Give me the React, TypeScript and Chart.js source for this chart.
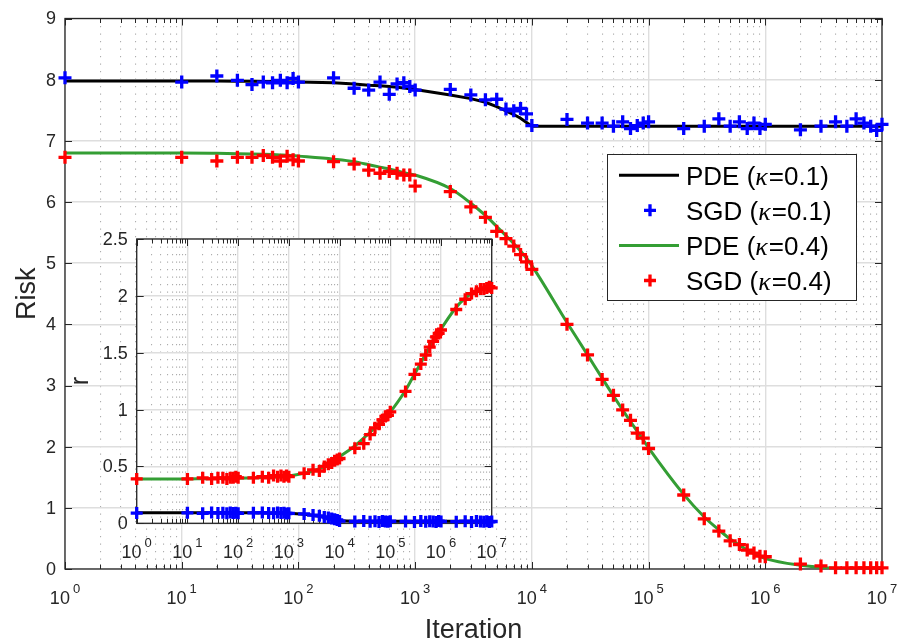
import React, { useEffect, useRef } from 'react';
import { Chart, registerables } from 'chart.js';

Chart.register(...registerables);

// ---------------- data ----------------
const iterations = [
  1, 10, 20, 30, 40, 50, 60, 70, 80, 90, 100,
  200, 300, 400, 500, 600, 700, 800, 900, 1e3,
  2e3, 3e3, 4e3, 5e3, 6e3, 7e3, 8e3, 9e3, 1e4,
  2e4, 3e4, 4e4, 5e4, 6e4, 7e4, 8e4, 9e4, 1e5,
  2e5, 3e5, 4e5, 5e5, 6e5, 7e5, 8e5, 9e5, 1e6,
  2e6, 3e6, 4e6, 5e6, 6e6, 7e6, 8e6, 9e6, 1e7,
];

// Main plot: Risk
const pdeRisk01 = [
  7.98, 7.98, 7.978, 7.976, 7.974, 7.972, 7.97, 7.968, 7.966, 7.963, 7.96,
  7.95, 7.93, 7.91, 7.90, 7.89, 7.875, 7.865, 7.85, 7.84,
  7.75, 7.69, 7.63, 7.56, 7.49, 7.43, 7.37, 7.30, 7.24,
  7.24, 7.24, 7.24, 7.24, 7.24, 7.24, 7.24, 7.24, 7.24,
  7.24, 7.24, 7.24, 7.24, 7.24, 7.24, 7.24, 7.24, 7.24,
  7.24, 7.24, 7.24, 7.24, 7.24, 7.24, 7.24, 7.24, 7.24,
];
const sgdRisk01 = [
  8.03, 7.96, 8.06, 7.99, 7.92, 7.96, 7.95, 7.99, 7.95, 8.02, 7.96,
  8.03, 7.86, 7.83, 7.96, 7.76, 7.93, 7.95, 7.89, 7.83,
  7.84, 7.75, 7.67, 7.68, 7.52, 7.49, 7.53, 7.44, 7.25,
  7.35, 7.29, 7.29, 7.24, 7.31, 7.20, 7.25, 7.29, 7.31,
  7.20, 7.24, 7.36, 7.24, 7.31, 7.20, 7.29, 7.20, 7.27,
  7.18, 7.24, 7.31, 7.24, 7.36, 7.29, 7.24, 7.17, 7.27,
];
const pdeRisk04 = [
  6.80, 6.80, 6.795, 6.79, 6.785, 6.78, 6.775, 6.77, 6.765, 6.757, 6.75,
  6.70, 6.66, 6.61, 6.57, 6.54, 6.51, 6.48, 6.46, 6.44,
  6.22, 5.98, 5.78, 5.60, 5.45, 5.32, 5.20, 5.08, 4.96,
  4.03, 3.50, 3.12, 2.83, 2.60, 2.41, 2.25, 2.11, 1.98,
  1.22, 0.85, 0.64, 0.49, 0.39, 0.31, 0.25, 0.205, 0.17,
  0.06, 0.025, 0.012, 0.006, 0.003, 0.002, 0.001, 0.0, 0.0,
];
const sgdRisk04 = [
  6.73, 6.73, 6.67, 6.73, 6.73, 6.76, 6.73, 6.67, 6.75, 6.69, 6.67,
  6.66, 6.62, 6.52, 6.47, 6.50, 6.47, 6.44, 6.44, 6.26,
  6.17, 5.92, 5.75, 5.52, 5.40, 5.28, 5.14, 5.02, 4.90,
  4.00, 3.50, 3.10, 2.84, 2.60, 2.43, 2.22, 2.14, 1.97,
  1.21, 0.82, 0.62, 0.46, 0.40, 0.31, 0.26, 0.21, 0.20,
  0.08, 0.05, 0.02, 0.02, 0.02, 0.02, 0.02, 0.02, 0.02,
];

// Inset: r
const pdeR01 = [
  0.092, 0.092, 0.092, 0.092, 0.092, 0.092, 0.092, 0.092, 0.092, 0.092, 0.092,
  0.092, 0.091, 0.091, 0.090, 0.090, 0.089, 0.089, 0.088, 0.088,
  0.080, 0.070, 0.062, 0.055, 0.048, 0.042, 0.036, 0.030, 0.022,
  0.018, 0.018, 0.018, 0.018, 0.018, 0.018, 0.018, 0.018, 0.018,
  0.018, 0.018, 0.018, 0.018, 0.018, 0.018, 0.018, 0.018, 0.018,
  0.018, 0.018, 0.018, 0.018, 0.018, 0.018, 0.018, 0.018, 0.018,
];
const sgdR01 = [
  0.090, 0.092, 0.088, 0.094, 0.090, 0.092, 0.088, 0.094, 0.090, 0.092, 0.088,
  0.092, 0.094, 0.090, 0.088, 0.094, 0.090, 0.092, 0.086, 0.088,
  0.082, 0.072, 0.066, 0.056, 0.050, 0.042, 0.036, 0.030, 0.020,
  0.016, 0.020, 0.014, 0.018, 0.012, 0.020, 0.016, 0.014, 0.018,
  0.016, 0.012, 0.020, 0.014, 0.018, 0.016, 0.012, 0.020, 0.016,
  0.014, 0.018, 0.012, 0.020, 0.016, 0.014, 0.018, 0.012, 0.016,
];
const pdeR04 = [
  0.39, 0.39, 0.392, 0.393, 0.394, 0.394, 0.395, 0.395, 0.396, 0.396, 0.397,
  0.40, 0.402, 0.404, 0.406, 0.408, 0.41, 0.412, 0.414, 0.416,
  0.44, 0.46, 0.48, 0.50, 0.52, 0.54, 0.555, 0.57, 0.585,
  0.68, 0.75, 0.80, 0.845, 0.88, 0.91, 0.94, 0.96, 0.98,
  1.17, 1.31, 1.41, 1.49, 1.55, 1.60, 1.64, 1.68, 1.71,
  1.90, 1.98, 2.02, 2.045, 2.06, 2.07, 2.075, 2.08, 2.08,
];
const sgdR04 = [
  0.39, 0.39, 0.40, 0.39, 0.40, 0.40, 0.39, 0.40, 0.40, 0.41, 0.40,
  0.40, 0.41, 0.40, 0.42, 0.41, 0.42, 0.41, 0.42, 0.41,
  0.44, 0.47, 0.46, 0.50, 0.52, 0.53, 0.55, 0.56, 0.57,
  0.66, 0.70, 0.78, 0.84, 0.87, 0.91, 0.94, 0.95, 0.98,
  1.16, 1.31, 1.40, 1.48, 1.55, 1.60, 1.64, 1.67, 1.70,
  1.88, 1.97, 2.02, 2.04, 2.06, 2.06, 2.07, 2.08, 2.07,
];

const xTickExponents = [0, 1, 2, 3, 4, 5, 6, 7];
const riskTicks = [0, 1, 2, 3, 4, 5, 6, 7, 8, 9];
const rTicks = [0, 0.5, 1, 1.5, 2, 2.5];

const seriesLabels = ['PDE (κ=0.1)', 'SGD (κ=0.1)', 'PDE (κ=0.4)', 'SGD (κ=0.4)'];

// ---------------- styling ----------------
const FONT = "'Liberation Sans', Arial, Helvetica, sans-serif";
const INK = '#262626';
const GRID_MAJOR = '#dedede';
const GRID_MINOR = 'rgba(0,0,0,0.32)';
const BLUE = '#0000ff';
const RED = '#ff0000';
const GREEN = 'rgb(52,158,52)';

const pts = (arr: number[]) => iterations.map((x, i) => ({ x, y: arr[i] }));

function decadeTicks() {
  const maxExp = xTickExponents[xTickExponents.length - 1];
  const t: any[] = [];
  for (let e = 0; e < maxExp; e++) {
    for (let m = 1; m < 10; m++) t.push({ value: m * Math.pow(10, e), major: m === 1 });
  }
  t.push({ value: Math.pow(10, maxExp), major: true });
  return t;
}

function makeScales(yMin: number, yMax: number, yStep: number, yW: number, xH: number) {
  return {
    x: {
      type: 'logarithmic',
      min: 1,
      max: 1e7,
      position: 'bottom',
      afterBuildTicks: (s: any) => { s.ticks = decadeTicks(); },
      afterFit: (s: any) => { s.height = xH; },
      ticks: { display: false, autoSkip: false },
      grid: {
        drawTicks: false,
        lineWidth: 1.4,
        color: (c: any) => (c.tick && c.tick.major ? GRID_MAJOR : 'rgba(0,0,0,0)'),
      },
      border: { display: false },
    },
    xm: {
      type: 'logarithmic',
      axis: 'x',
      min: 1,
      max: 1e7,
      position: 'bottom',
      afterBuildTicks: (s: any) => { s.ticks = decadeTicks(); },
      afterFit: (s: any) => { s.height = 0; },
      ticks: { display: false, autoSkip: false },
      grid: {
        drawTicks: false,
        lineWidth: 1.1,
        color: (c: any) => (c.tick && !c.tick.major ? GRID_MINOR : 'rgba(0,0,0,0)'),
      },
      border: { display: false, dash: [1.3, 6.2] },
    },
    y: {
      type: 'linear',
      min: yMin,
      max: yMax,
      afterFit: (s: any) => { s.width = yW; },
      ticks: { display: false, stepSize: yStep },
      grid: { drawTicks: false, lineWidth: 1.4, color: GRID_MAJOR },
      border: { display: false },
    },
  };
}

function drawCross(ctx: CanvasRenderingContext2D, x: number, y: number, r: number, color: string, w: number) {
  ctx.save();
  ctx.strokeStyle = color;
  ctx.lineWidth = w;
  ctx.beginPath();
  ctx.moveTo(x - r, y); ctx.lineTo(x + r, y);
  ctx.moveTo(x, y - r); ctx.lineTo(x, y + r);
  ctx.stroke();
  ctx.restore();
}

function axesPlugin(o: any) {
  return {
    id: o.id,
    beforeDraw(chart: any) {
      if (!o.white) return;
      const { ctx, chartArea: a } = chart;
      ctx.save();
      ctx.fillStyle = '#ffffff';
      ctx.fillRect(a.left, a.top, a.right - a.left, a.bottom - a.top);
      ctx.restore();
    },
    beforeDatasetsDraw(chart: any) {
      const { ctx, chartArea: a, scales } = chart;
      const xs = scales.x;
      const ys = scales.y;
      ctx.save();
      ctx.strokeStyle = INK;
      ctx.lineWidth = 1;
      ctx.beginPath();
      for (const t of xs.ticks) {
        const px = Math.round(xs.getPixelForValue(t.value)) + 0.5;
        const len = t.major ? 7 : 4.5;
        ctx.moveTo(px, a.bottom); ctx.lineTo(px, a.bottom - len);
        ctx.moveTo(px, a.top); ctx.lineTo(px, a.top + len);
      }
      for (const t of ys.ticks) {
        const py = Math.round(ys.getPixelForValue(t.value)) + 0.5;
        ctx.moveTo(a.left, py); ctx.lineTo(a.left + 7, py);
        ctx.moveTo(a.right, py); ctx.lineTo(a.right - 7, py);
      }
      ctx.stroke();
      ctx.lineWidth = 1.3;
      ctx.strokeRect(a.left, a.top, a.right - a.left, a.bottom - a.top);
      ctx.restore();
    },
    afterDraw(chart: any) {
      const { ctx, chartArea: a, scales } = chart;
      const xs = scales.x;
      const ys = scales.y;
      ctx.save();
      ctx.fillStyle = INK;
      // x tick labels 10^k
      for (const e of xTickExponents) {
        const px = xs.getPixelForValue(Math.pow(10, e));
        ctx.font = `18px ${FONT}`;
        const w10 = ctx.measureText('10').width;
        ctx.font = `13px ${FONT}`;
        const we = ctx.measureText(String(e)).width;
        const gap = 3;
        const start = px - (w10 + gap + we) / 2;
        ctx.textAlign = 'left';
        ctx.textBaseline = 'alphabetic';
        ctx.font = `18px ${FONT}`;
        ctx.fillText('10', start, a.bottom + 35);
        ctx.font = `13px ${FONT}`;
        ctx.fillText(String(e), start + w10 + gap, a.bottom + 24);
      }
      // y tick labels
      ctx.font = `18px ${FONT}`;
      ctx.textAlign = 'right';
      ctx.textBaseline = 'middle';
      for (const v of o.yTicks) {
        ctx.fillText(String(v), a.left - 9, ys.getPixelForValue(v) + 1);
      }
      // y title
      ctx.save();
      ctx.translate(o.yTitleBaseX, (a.top + a.bottom) / 2);
      ctx.rotate(-Math.PI / 2);
      ctx.textAlign = 'center';
      ctx.textBaseline = 'alphabetic';
      ctx.font = `${o.yTitleSize}px ${FONT}`;
      ctx.fillText(o.yTitle, 0, 0);
      ctx.restore();
      // x title
      if (o.xTitle) {
        ctx.textAlign = 'center';
        ctx.textBaseline = 'alphabetic';
        ctx.font = `${o.xTitleSize}px ${FONT}`;
        ctx.fillText(o.xTitle, (a.left + a.right) / 2, o.xTitleBaseline);
      }
      // legend
      if (o.legend) {
        const L = o.legend;
        ctx.fillStyle = '#ffffff';
        ctx.fillRect(L.x, L.y, L.w, L.h);
        ctx.strokeStyle = INK;
        ctx.lineWidth = 1;
        ctx.strokeRect(Math.round(L.x) + 0.5, Math.round(L.y) + 0.5, Math.round(L.w), Math.round(L.h));
        chart.data.datasets.forEach((ds: any, i: number) => {
          const y = L.row0 + i * L.step;
          if (ds.showLine === false) {
            drawCross(ctx, L.markX, y, 6, ds.borderColor, 3.3);
          } else {
            ctx.save();
            ctx.strokeStyle = ds.borderColor;
            ctx.lineWidth = 3;
            ctx.beginPath();
            ctx.moveTo(L.lineX0, y); ctx.lineTo(L.lineX1, y);
            ctx.stroke();
            ctx.restore();
          }
          const parts = String(ds.label).split('κ');
          let tx = L.textX;
          const by = y + 9.5;
          ctx.fillStyle = '#000000';
          ctx.textAlign = 'left';
          ctx.textBaseline = 'alphabetic';
          ctx.font = `26px ${FONT}`;
          ctx.fillText(parts[0], tx, by);
          tx += ctx.measureText(parts[0]).width;
          if (parts.length > 1) {
            ctx.font = `italic 26px 'Liberation Serif', 'DejaVu Serif', serif`;
            ctx.fillText('κ', tx, by);
            tx += ctx.measureText('κ').width + 1;
            ctx.font = `26px ${FONT}`;
            ctx.fillText(parts[1], tx, by);
          }
        });
      }
      ctx.restore();
    },
  };
}

function lineDs(label: string, data: number[], color: string, smooth: boolean) {
  return {
    label,
    data: pts(data),
    borderColor: color,
    backgroundColor: color,
    borderWidth: 3,
    pointRadius: 0,
    tension: 0,
    cubicInterpolationMode: smooth ? 'monotone' : 'default',
    order: 1,
  };
}

function markDs(label: string, data: number[], color: string, r: number) {
  return {
    label,
    data: pts(data),
    showLine: false,
    borderColor: color,
    backgroundColor: color,
    pointStyle: 'cross',
    pointRadius: r,
    pointBorderWidth: 3.3,
    pointBorderColor: color,
    pointBackgroundColor: color,
    clip: false,
    order: 0,
  };
}

export default function App() {
  const mainRef = useRef<HTMLCanvasElement>(null);
  const insetRef = useRef<HTMLCanvasElement>(null);

  useEffect(() => {
    const main = new Chart(mainRef.current as any, {
      type: 'line',
      data: {
        datasets: [
          lineDs(seriesLabels[0], pdeRisk01, '#000000', false),
          markDs(seriesLabels[1], sgdRisk01, BLUE, 6.5),
          lineDs(seriesLabels[2], pdeRisk04, GREEN, true),
          markDs(seriesLabels[3], sgdRisk04, RED, 6.5),
        ] as any,
      },
      options: {
        animation: false,
        responsive: false,
        events: [],
        layout: { padding: { left: 0, top: 18.5, right: 16, bottom: 0 } },
        plugins: { legend: { display: false }, tooltip: { enabled: false } },
        scales: makeScales(0, 9, 1, 65, 72) as any,
      },
      plugins: [
        axesPlugin({
          id: 'mainAxes',
          yTicks: riskTicks,
          yTitle: 'Risk',
          yTitleSize: 27,
          yTitleBaseX: 35,
          xTitle: 'Iteration',
          xTitleSize: 27,
          xTitleBaseline: 638,
          legend: { x: 606.7, y: 154.3, w: 249.3, h: 145.7, row0: 175.2, step: 35.1, lineX0: 619, lineX1: 679, markX: 650, textX: 686 },
        }),
      ],
    } as any);

    const inset = new Chart(insetRef.current as any, {
      type: 'line',
      data: {
        datasets: [
          lineDs(seriesLabels[0], pdeR01, '#000000', false),
          markDs(seriesLabels[1], sgdR01, BLUE, 6),
          lineDs(seriesLabels[2], pdeR04, GREEN, true),
          markDs(seriesLabels[3], sgdR04, RED, 6),
        ] as any,
      },
      options: {
        animation: false,
        responsive: false,
        events: [],
        layout: { padding: { left: 0, top: 14, right: 28.3, bottom: 0 } },
        plugins: { legend: { display: false }, tooltip: { enabled: false } },
        scales: makeScales(0, 2.5, 0.5, 76.7, 41.7) as any,
      },
      plugins: [
        axesPlugin({
          id: 'insetAxes',
          white: true,
          yTicks: rTicks,
          yTitle: 'r',
          yTitleSize: 25,
          yTitleBaseX: 28,
        }),
      ],
    } as any);

    return () => {
      main.destroy();
      inset.destroy();
    };
  }, []);

  return (
    <div style={{ position: 'fixed', left: 0, top: 0, width: 898, height: 641, background: '#ffffff' }}>
      <canvas ref={mainRef} width={898} height={641} style={{ position: 'absolute', left: 0, top: 0, width: 898, height: 641 }} />
      <canvas ref={insetRef} width={460} height={340} style={{ position: 'absolute', left: 60, top: 225, width: 460, height: 340 }} />
    </div>
  );
}
